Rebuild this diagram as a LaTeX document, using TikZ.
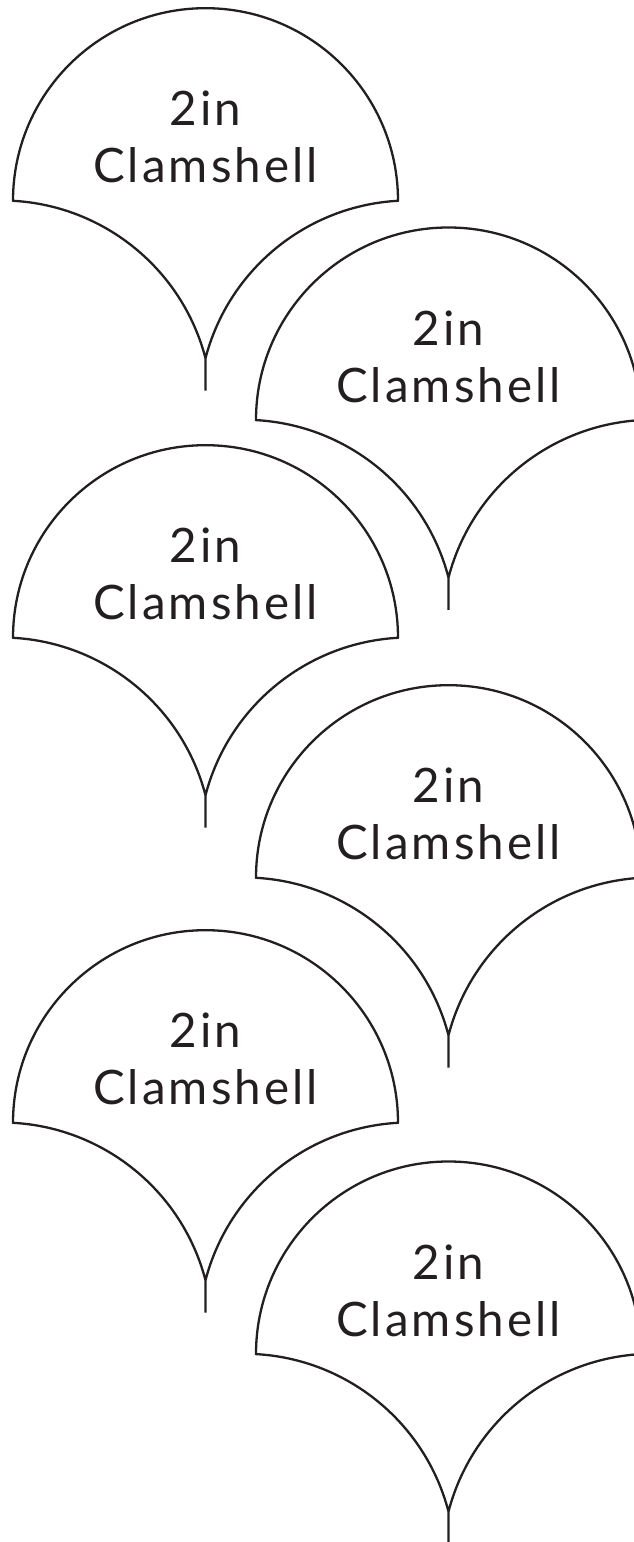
\documentclass[tikz,border=0pt]{standalone}
\usepackage{fontspec}
\setmainfont{Lato}[LetterSpace=6.5]
\definecolor{ink}{HTML}{231F20}
\tikzset{
  shellline/.style={draw=ink, line width=2.3pt, line join=miter},
  shelltext/.style={text=ink, font=\fontsize{47.5}{50}\selectfont, anchor=base, inner sep=0pt},
  pics/clamshell/.style={code={
    \draw[shellline] (0,-190) -- (0,-157.6)
      arc[start angle=14.6, end angle=86.8, radius=211] -- (-192.5,0)
      arc[start angle=180, end angle=0, radius=192.5] -- (192.4,-0.1)
      arc[start angle=93.2, end angle=165.4, radius=211] -- (0,-157.6);
    \node[shelltext] (-size) at (0,74.7) {2in};
    \node[shelltext] (-name) at (0,17.7) {Clamshell};
  }}
}
\begin{document}
\begin{tikzpicture}[x=1pt,y=1pt]
\useasboundingbox (0,0) rectangle (633,1542);
\pic (l1) at (205.5,1341.3) {clamshell};
\pic (r1) at (448.5,1122) {clamshell};
\pic (l2) at (205.5,904.3) {clamshell};
\pic (r2) at (448.5,664.3) {clamshell};
\pic (l3) at (205.5,419.3) {clamshell};
\pic (r3) at (448.5,188) {clamshell};
\end{tikzpicture}
\end{document}
